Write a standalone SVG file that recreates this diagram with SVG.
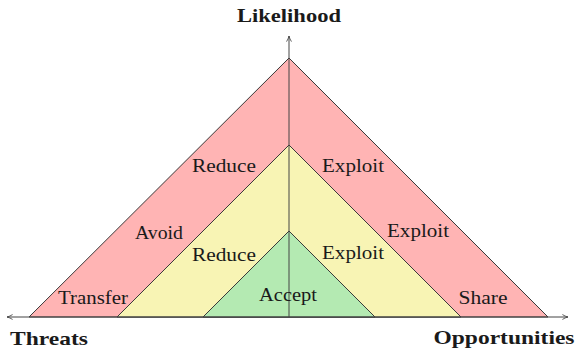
<svg xmlns="http://www.w3.org/2000/svg" width="576" height="352" viewBox="0 0 576 352">
  <style>
    .zone { stroke: #3a3a3a; stroke-width: 1; stroke-linejoin: miter; }
    .outer { fill: #ffb4b4; }
    .middle { fill: #f8f4b4; }
    .inner { fill: #b4eab2; }
    .axis { stroke: #444; stroke-width: 1; fill: none; }
    .lbl { font-family: "Liberation Serif", "Times New Roman", serif; font-size: 19px; fill: #1a1a1a; text-anchor: middle; }
    .title { font-family: "Liberation Serif", "Times New Roman", serif; font-weight: bold; font-size: 19px; fill: #1a1a1a; text-anchor: middle; }
  </style>
  <defs>
    <marker id="tip" viewBox="0 0 10 10" refX="9" refY="5" markerWidth="7" markerHeight="7" orient="auto-start-reverse" markerUnits="userSpaceOnUse">
      <path d="M1,1.5 Q5,4 9,5 Q5,6 1,8.5" fill="none" stroke="#444" stroke-width="1.2"/>
    </marker>
  </defs>

  <g id="zone-outer">
    <polygon class="zone outer" points="29,317 289,58 548,317"/>
  </g>
  <g id="zone-middle">
    <polygon class="zone middle" points="117,317 289,145 461,317"/>
  </g>
  <g id="zone-inner">
    <polygon class="zone inner" points="203,317 289,231 375,317"/>
  </g>

  <g id="axes">
    <line class="axis" x1="7" y1="317" x2="568" y2="317" marker-start="url(#tip)" marker-end="url(#tip)"/>
    <line class="axis" x1="289" y1="317" x2="289" y2="36" marker-end="url(#tip)"/>
  </g>

  <g id="labels">
    <text class="lbl" x="224" y="172" textLength="64" lengthAdjust="spacingAndGlyphs">Reduce</text>
    <text class="lbl" x="159" y="239" textLength="48" lengthAdjust="spacingAndGlyphs">Avoid</text>
    <text class="lbl" x="224" y="261" textLength="64" lengthAdjust="spacingAndGlyphs">Reduce</text>
    <text class="lbl" x="93" y="304" textLength="70" lengthAdjust="spacingAndGlyphs">Transfer</text>
    <text class="lbl" x="353" y="172" textLength="62" lengthAdjust="spacingAndGlyphs">Exploit</text>
    <text class="lbl" x="418" y="237" textLength="62" lengthAdjust="spacingAndGlyphs">Exploit</text>
    <text class="lbl" x="353" y="259" textLength="62" lengthAdjust="spacingAndGlyphs">Exploit</text>
    <text class="lbl" x="288" y="301" textLength="58" lengthAdjust="spacingAndGlyphs">Accept</text>
    <text class="lbl" x="483" y="304" textLength="49" lengthAdjust="spacingAndGlyphs">Share</text>
  </g>

  <g id="axis-titles">
    <text class="title" x="289" y="22" textLength="104" lengthAdjust="spacingAndGlyphs">Likelihood</text>
    <text class="title" x="49" y="345" textLength="78" lengthAdjust="spacingAndGlyphs">Threats</text>
    <text class="title" x="504" y="344" textLength="141" lengthAdjust="spacingAndGlyphs">Opportunities</text>
  </g>
</svg>
